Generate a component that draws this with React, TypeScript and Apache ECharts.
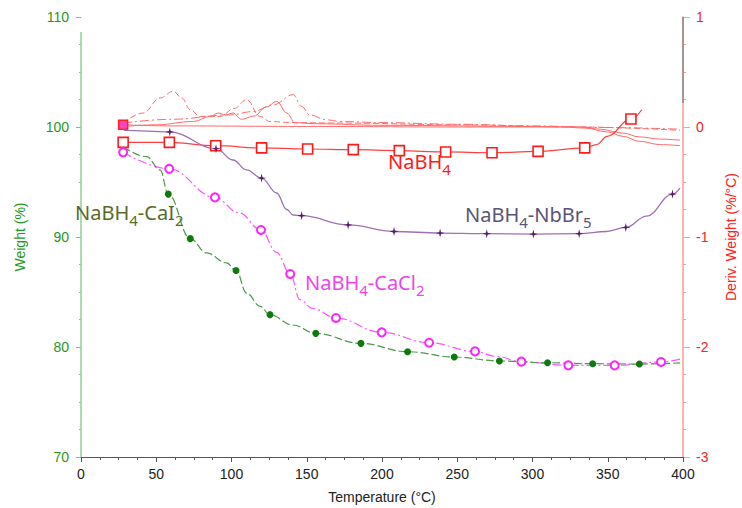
import React, { useEffect, useRef } from "react";
import * as echarts from "echarts";

// ---------- data ----------
// NaBH4-CaI2 weight (%)
const cai2T = [28, 43.6, 52.5, 58, 72.6, 83.5, 96.8, 103, 110.1, 119, 125.6, 140.7, 156, 186, 217, 248, 278, 310, 340, 371, 398];
const cai2W = [98.2, 97.3, 96.1, 93.9, 89.85, 88.55, 87.64, 86.96, 84.9, 83.7, 82.94, 82.0, 81.24, 80.33, 79.57, 79.09, 78.73, 78.57, 78.48, 78.45, 78.55];
const cai2Mark = [0, 0, 0, 1, 1, 0, 0, 1, 0, 0, 1, 0, 1, 1, 1, 1, 1, 1, 1, 1, 0];

// NaBH4-CaCl2 weight (%)
const cacl2T = [28, 58.6, 89, 105, 119.6, 130, 139, 145.5, 154, 169.4, 199.8, 231.3, 261.8, 276, 292.6, 323.8, 354.6, 385.4, 398];
const cacl2W = [97.7, 96.2, 93.6, 92.2, 90.64, 88.6, 86.64, 84.3, 83.5, 82.64, 81.33, 80.39, 79.6, 79.15, 78.67, 78.33, 78.33, 78.64, 78.9];
const cacl2Mark = [1, 1, 1, 0, 1, 0, 1, 0, 0, 1, 1, 1, 1, 0, 1, 1, 1, 1, 0];

// NaBH4-NbBr5 weight (%)
const nbbr5T = [28, 28.6, 59, 89.7, 101, 110, 120, 130, 136.7, 141, 146.6, 177.5, 208, 238.6, 269.6, 300.6, 331, 349, 362, 375.8, 393, 398];
const nbbr5W = [100.2, 99.7, 99.55, 98.03, 97.0, 96.1, 95.36, 94.0, 92.5, 92.0, 91.94, 91.1, 90.5, 90.36, 90.3, 90.27, 90.3, 90.5, 90.87, 91.9, 93.9, 94.45];
const nbbr5Mark = [0, 0, 1, 1, 0, 0, 1, 0, 0, 0, 1, 1, 1, 1, 1, 1, 1, 0, 1, 0, 1, 0];

// NaBH4 weight (%)
const nabh4T = [28, 58.7, 89.5, 120, 150.6, 180.9, 211.5, 242.3, 273.1, 303.7, 334.7, 342.6, 349.6, 365.4, 372.6];
const nabh4W = [98.6, 98.6, 98.3, 98.1, 98.0, 97.94, 97.85, 97.73, 97.66, 97.78, 98.1, 98.4, 99.15, 100.73, 101.57];
const nabh4Mark = [1, 1, 1, 1, 1, 1, 1, 1, 1, 1, 1, 0, 0, 1, 0];

// Derivative weight (%/°C)
const dCai2T = [28, 41.4, 52.5, 61.3, 67, 72.6, 79, 92.4, 102, 110, 119, 125.6, 140, 172, 250, 330, 398];
const dCai2D = [0.036, 0.127, 0.264, 0.324, 0.264, 0.157, 0.096, 0.096, 0.17, 0.248, 0.096, 0.05, 0.04, 0.036, 0.02, 0.0, -0.03];

const dCacl2T = [28, 60, 99, 114, 127.5, 141, 146.6, 152, 163, 172, 200, 250, 300, 350, 398];
const dCacl2D = [0.036, 0.07, 0.11, 0.14, 0.2, 0.294, 0.187, 0.11, 0.066, 0.05, 0.04, 0.025, 0.01, -0.005, -0.02];

const dNbbr5T = [28, 50, 74.6, 86, 91, 96, 101, 106.6, 115, 123, 130, 136.8, 142, 155, 200, 300, 333, 345, 360, 371, 385, 398];
const dNbbr5D = [0.005, 0.02, 0.05, 0.096, 0.127, 0.11, 0.127, 0.07, 0.1, 0.18, 0.233, 0.127, 0.04, 0.03, 0.015, 0.005, 0.0, -0.02, -0.055, -0.09, -0.11, -0.12];

const dNabh4T = [28, 60, 150, 250, 320, 335, 350, 360, 371, 385, 398];
const dNabh4D = [0.02, 0.01, 0.005, 0.0, 0.0, -0.01, -0.045, -0.085, -0.13, -0.16, -0.17];

const xTicks = { min: 0, max: 400, interval: 50 };
const yLeftTicks = { min: 70, max: 110, interval: 10 };
const yRightTicks = { min: -3, max: 1, interval: 1 };

const STAR = "path://M0,-10 L2,-2 L10,0 L2,2 L0,10 L-2,2 L-10,0 L-2,-2 Z";
const LABEL_FONT = "'Noto Sans', 'Open Sans', sans-serif";
const AXIS_FONT = "'Liberation Sans', Arial, sans-serif";

function pts(t: number[], v: number[], mark?: number[], sym?: string) {
  return t.map((x, i) => ({
    value: [x, v[i]],
    symbol: mark && sym && mark[i] ? sym : "none",
  }));
}

function label(x: number, y: number, parts: [string, boolean][], color: string) {
  const text = parts.map(([s, sub]) => (sub ? `{s|${s}}` : `{m|${s}}`)).join("");
  return {
    type: "text",
    x,
    y,
    z: 100,
    style: {
      text,
      fill: color,
      verticalAlign: "top",
      rich: {
        m: { fontSize: 20, fontFamily: LABEL_FONT, lineHeight: 24, verticalAlign: "top", fill: color },
        s: { fontSize: 15, fontFamily: LABEL_FONT, lineHeight: 18, padding: [10, 0, 0, 0], verticalAlign: "top", fill: color },
      },
    },
  };
}

export default function App() {
  const ref = useRef<HTMLDivElement>(null);
  useEffect(() => {
    if (!ref.current) return;
    document.body.style.margin = "0";
    document.body.style.overflow = "hidden";
    const chart = echarts.init(ref.current, null, { renderer: "svg", width: 742, height: 508 });
    const derivStyle = (type: any) => ({
      type: "line",
      yAxisIndex: 1,
      smooth: 0.4,
      smoothMonotone: "x",
      showSymbol: true,
      lineStyle: { color: "#ff6b6b", width: 1, type },
      itemStyle: { color: "#ff6b6b" },
      z: 2,
    });
    chart.setOption({
      animation: false,
      backgroundColor: "#ffffff",
      grid: { left: 81, right: 59, top: 17, bottom: 51, containLabel: false, outerBoundsMode: "none" },
      xAxis: {
        type: "value",
        ...xTicks,
        name: "Temperature (°C)",
        nameLocation: "middle",
        nameGap: 33,
        nameTextStyle: { color: "#222", fontSize: 14, fontFamily: AXIS_FONT },
        axisLine: { show: true, onZero: false, lineStyle: { color: "#555", width: 1 } },
        axisTick: { show: true, length: 5, lineStyle: { color: "#555" } },
        minorTick: { show: true, splitNumber: 4, length: 3, lineStyle: { color: "#555" } },
        axisLabel: { color: "#222", fontSize: 14, fontFamily: AXIS_FONT, margin: 10 },
        splitLine: { show: false },
      },
      yAxis: [
        {
          type: "value",
          ...yLeftTicks,
          name: "Weight (%)",
          nameLocation: "middle",
          nameGap: 54,
          nameTextStyle: { color: "#1e9a1e", fontSize: 14, fontFamily: AXIS_FONT },
          axisLine: { show: false },
          axisTick: { show: true, length: 5, lineStyle: { color: "#7cc47c" } },
          minorTick: { show: true, splitNumber: 4, length: 2, lineStyle: { color: "#7cc47c" } },
          axisLabel: { color: "#1e9a1e", fontSize: 14, fontFamily: AXIS_FONT, margin: 12 },
          splitLine: { show: false },
        },
        {
          type: "value",
          ...yRightTicks,
          position: "right",
          name: "Deriv. Weight (%/°C)",
          nameLocation: "middle",
          nameGap: 41,
          nameRotate: 90,
          nameTextStyle: { color: "#ff2020", fontSize: 14, fontFamily: AXIS_FONT },
          axisLine: { show: true, lineStyle: { color: "#ff9a9a", width: 1.5 } },
          axisTick: { show: true, length: 7, lineStyle: { color: "#ff9a9a" } },
          minorTick: { show: true, splitNumber: 4, length: 3, lineStyle: { color: "#ff9a9a" } },
          axisLabel: { color: "#ff2020", fontSize: 14, fontFamily: AXIS_FONT, margin: 13 },
          splitLine: { show: false },
        },
      ],
      graphic: [
        { type: "line", shape: { x1: 81, y1: 32, x2: 81, y2: 457 }, style: { stroke: "#94d094", lineWidth: 1.5 }, z: 50 },
        { type: "line", shape: { x1: 683, y1: 17, x2: 683, y2: 103 }, style: { stroke: "#8a8a8a", lineWidth: 1.5 }, z: 50 },
        label(388, 151, [["NaBH", false], ["4", true]], "#ff1a1a"),
        label(75, 202, [["NaBH", false], ["4", true], ["-CaI", false], ["2", true]], "#5a6a2a"),
        label(305, 272, [["NaBH", false], ["4", true], ["-CaCl", false], ["2", true]], "#ee44ee"),
        label(465, 204, [["NaBH", false], ["4", true], ["-NbBr", false], ["5", true]], "#5a5478"),
      ],
      series: [
        { ...derivStyle([6, 3]), name: "dCaI2", data: pts(dCai2T, dCai2D) },
        { ...derivStyle([9, 3, 2, 3]), name: "dCaCl2", data: pts(dCacl2T, dCacl2D) },
        { ...derivStyle("solid"), name: "dNbBr5", data: pts(dNbbr5T, dNbbr5D) },
        {
          ...derivStyle("solid"),
          name: "dNaBH4",
          symbolSize: 9,
          itemStyle: { color: "#ff40c0", borderColor: "#ff2020", borderWidth: 1.5 },
          data: pts(dNabh4T, dNabh4D, [1, 0, 0, 0, 0, 0, 0, 0, 0, 0, 0], "rect"),
        },
        {
          type: "line",
          name: "NaBH4",
          smooth: 0.4,
          smoothMonotone: "x",
          symbolSize: 10,
          lineStyle: { color: "#ff4040", width: 1.2 },
          itemStyle: { color: "#ffffff", borderColor: "#ff1a1a", borderWidth: 1.6 },
          data: pts(nabh4T, nabh4W, nabh4Mark, "rect"),
          z: 5,
        },
        {
          type: "line",
          name: "NaBH4-NbBr5",
          smooth: 0.4,
          smoothMonotone: "x",
          symbolSize: 9,
          lineStyle: { color: "#a070b4", width: 1.3 },
          itemStyle: { color: "#5a1a6a" },
          data: pts(nbbr5T, nbbr5W, nbbr5Mark, STAR),
          z: 5,
        },
        {
          type: "line",
          name: "NaBH4-CaCl2",
          smooth: 0.4,
          smoothMonotone: "x",
          symbolSize: 8,
          lineStyle: { color: "#ff55ff", width: 1.2, type: [9, 3, 2, 3] },
          itemStyle: { color: "#ffffff", borderColor: "#ff22ff", borderWidth: 2 },
          data: pts(cacl2T, cacl2W, cacl2Mark, "circle"),
          z: 6,
        },
        {
          type: "line",
          name: "NaBH4-CaI2",
          smooth: 0.4,
          smoothMonotone: "x",
          symbolSize: 7,
          lineStyle: { color: "#4a9a4a", width: 1.2, type: [8, 3] },
          itemStyle: { color: "#0d7a0d" },
          data: pts(cai2T, cai2W, cai2Mark, "circle"),
          z: 6,
        },
      ],
    });
    return () => chart.dispose();
  }, []);
  return <div ref={ref} style={{ width: 742, height: 508, position: "fixed", left: 0, top: 0 }} />;
}
